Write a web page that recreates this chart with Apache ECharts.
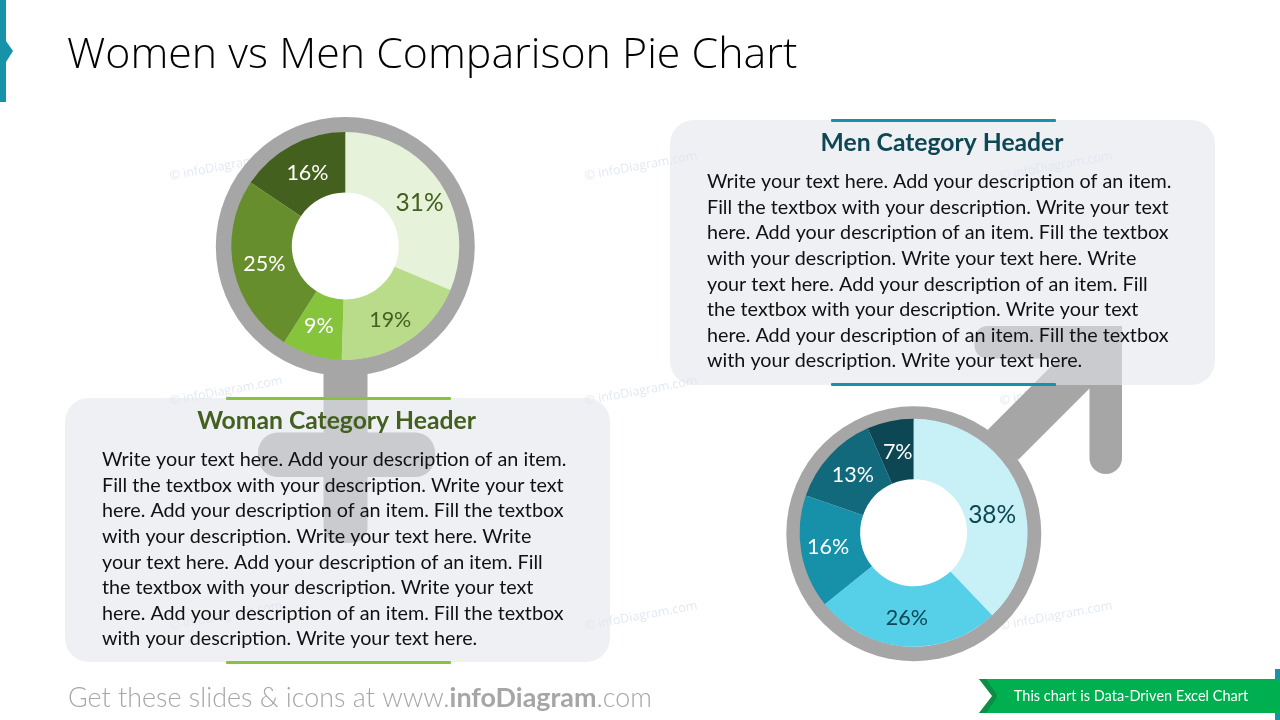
<!DOCTYPE html>
<html>
<head>
<meta charset="utf-8">
<title>Women vs Men Comparison Pie Chart</title>
<script src="https://cdn.jsdelivr.net/npm/echarts@6/dist/echarts.min.js"></script>
<style>
  html, body { margin: 0; padding: 0; background: #fff; }
  #main { width: 1280px; height: 720px; }
</style>
</head>
<body>
<div id="main"></div>
<script>
var titleText = 'Women vs Men Comparison Pie Chart'
var womanValues = [31.3, 19.2, 8.5, 25.4, 15.6]
var womanColors = ['#E6F2D9', '#B9DC8B', '#86C43C', '#678E2C', '#44601F']
var womanLabelColors = ['#44601F', '#44601F', '#fff', '#fff', '#fff']
var menValues = [37.9, 26.3, 16.1, 13.1, 6.6]
var menColors = ['#C8F1F7', '#56D0E9', '#1790A9', '#13697C', '#0D4753']
var menLabelColors = ['#0D4753', '#0D4753', '#fff', '#fff', '#fff']
var womanHeader = 'Woman Category Header'
var menHeader = 'Men Category Header'
var bodyLines = [
  'Write your text here. Add your description of an item.',
  'Fill the textbox with your description. Write your text',
  'here. Add your description of an item. Fill the textbox',
  'with your description. Write your text here. Write',
  'your text here. Add your description of an item. Fill',
  'the textbox with your description. Write your text',
  'here. Add your description of an item. Fill the textbox',
  'with your description. Write your text here.'
]
var watermarkText = '\u00A9 infoDiagram.com'
var watermarkX = [226, 641, 1056]
var watermarkY = [166, 391, 616]

var FONT = 'Lato'
var GREY = '#A6A6A6'
var PANEL = 'rgba(226,229,236,0.58)'

var myChart = echarts.init(document.getElementById('main'), null, { renderer: 'canvas' })

function pieSeries (values, colors, labelColors, center, nudges) {
  return {
    type: 'pie',
    center: center,
    radius: [53.5, 114],
    startAngle: 90,
    clockwise: true,
    silent: true,
    animation: false,
    label: {
      position: 'inside',
      fontFamily: FONT,
      fontSize: 21.5,
      formatter: function (p) {
        return Math.round(p.value) + '%'
      }
    },
    labelLine: { show: false },
    data: values.map(function (v, i) {
      return {
        value: v,
        name: 'slice' + i,
        itemStyle: { color: colors[i] },
        label: { color: labelColors[i], offset: nudges[i], fontSize: i === 0 ? 24.5 : 21.5 }
      }
    })
  }
}

function bodyText (x, y0) {
  return bodyLines.map(function (line, i) {
    return {
      type: 'text',
      x: x,
      y: y0 + i * 25.55,
      style: {
        text: line,
        fontFamily: FONT,
        fontSize: 19.75,
        fill: '#111',
        textAlign: 'left',
        textVerticalAlign: 'middle'
      }
    }
  })
}

function bar (x, y, w, h, color) {
  return { type: 'rect', shape: { x: x, y: y, width: w, height: h, r: 1 }, style: { fill: color } }
}

var graphics = []

// watermark sits under everything else
watermarkX.forEach(function (x) {
  watermarkY.forEach(function (y) {
    graphics.push({
      type: 'text',
      x: x,
      y: y,
      rotation: 10.5 * Math.PI / 180,
      style: {
        text: watermarkText,
        fontFamily: 'Open Sans',
        fontSize: 12.5,
        fill: '#E2E9F4',
        textAlign: 'center',
        textVerticalAlign: 'middle'
      }
    })
  })
})

// female symbol
graphics.push(
  { type: 'ring', shape: { cx: 345.3, cy: 246.5, r: 129.5, r0: 113 }, style: { fill: GREY } },
  { type: 'rect', shape: { x: 323.5, y: 370, width: 44, height: 173, r: [0, 0, 16, 16] }, style: { fill: GREY } },
  { type: 'rect', shape: { x: 258, y: 432.5, width: 177, height: 44.5, r: 20 }, style: { fill: GREY } }
)

// male symbol
graphics.push(
  { type: 'ring', shape: { cx: 913.8, cy: 533.7, r: 127.5, r0: 113 }, style: { fill: GREY } },
  {
    type: 'polygon',
    shape: { points: [[987.5, 430], [1059.5, 358], [1090, 358], [1090, 388], [1018, 460]] },
    style: { fill: GREY }
  },
  { type: 'rect', shape: { x: 1089.5, y: 326, width: 32.5, height: 148, r: [0, 0, 16, 16] }, style: { fill: GREY } },
  { type: 'rect', shape: { x: 974.5, y: 326, width: 147.5, height: 32.5, r: [13, 0, 0, 13] }, style: { fill: GREY } }
)

// text panels
graphics.push(
  { type: 'rect', shape: { x: 65, y: 398, width: 545, height: 264, r: 24 }, style: { fill: PANEL } },
  { type: 'rect', shape: { x: 670, y: 120, width: 545, height: 265, r: 24 }, style: { fill: PANEL } },
  bar(226, 397, 225, 3, '#86C43C'),
  bar(226, 661, 225, 3, '#86C43C'),
  bar(831, 119, 225, 3, '#1790A9'),
  bar(831, 383, 225, 3, '#1790A9'),
  {
    type: 'text', x: 336.5, y: 421.5,
    style: { text: womanHeader, fontFamily: FONT, fontWeight: 'bold', fontSize: 24.7, fill: '#44601F', textAlign: 'center', textVerticalAlign: 'middle' }
  },
  {
    type: 'text', x: 942, y: 143.5,
    style: { text: menHeader, fontFamily: FONT, fontWeight: 'bold', fontSize: 24.7, fill: '#0D4753', textAlign: 'center', textVerticalAlign: 'middle' }
  }
)
graphics = graphics.concat(bodyText(102, 460), bodyText(707, 182))

// slide furniture
graphics.push(
  { type: 'rect', shape: { x: 0, y: 0, width: 6, height: 102 }, style: { fill: '#1793A9' } },
  { type: 'polygon', shape: { points: [[6, 41], [13, 51], [6, 62]] }, style: { fill: '#1793A9' } },
  {
    type: 'text', x: 67, y: 55.5,
    style: { text: titleText, fontFamily: 'Open Sans', fontWeight: 300, fontSize: 42.9, fill: '#000', textAlign: 'left', textVerticalAlign: 'middle' }
  },
  {
    type: 'text', x: 68, y: 698,
    style: {
      text: '{a|Get these slides & icons at www.}{b|infoDiagram}{a|.com}',
      textAlign: 'left',
      textVerticalAlign: 'middle',
      rich: {
        a: { fontFamily: 'Lato', fontWeight: 300, fontSize: 26.9, fill: GREY, color: GREY },
        b: { fontFamily: 'Lato', fontWeight: 'bold', fontSize: 26.9, fill: GREY, color: GREY }
      }
    }
  },
  { type: 'rect', shape: { x: 1275, y: 669, width: 5, height: 51 }, style: { fill: '#1793A9' } },
  { type: 'polygon', shape: { points: [[979, 679], [1280, 679], [1280, 713], [979, 713], [998, 696]] }, style: { fill: '#00B050' } },
  { type: 'polygon', shape: { points: [[979, 679], [986, 679], [998, 696], [986, 713], [979, 713], [992, 696]] }, style: { fill: '#0B8F47' } },
  {
    type: 'text', x: 1131, y: 696,
    style: { text: 'This chart is Data-Driven Excel Chart', fontFamily: FONT, fontSize: 14.5, fill: '#fff', textAlign: 'center', textVerticalAlign: 'middle' }
  }
)

myChart.setOption({
  backgroundColor: '#fff',
  animation: false,
  graphic: { elements: graphics },
  series: [
    pieSeries(womanValues, womanColors, womanLabelColors, [345.3, 246], [[2, 5], [-2, 1], [-1, -3], [4, 0], [3, 4]]),
    pieSeries(menValues, menColors, menLabelColors, [913.6, 532.7], [[-2, 15], [-1, -1], [0, -1], [3, 1], [2, 4]])
  ]
})
</script>
</body>
</html>
